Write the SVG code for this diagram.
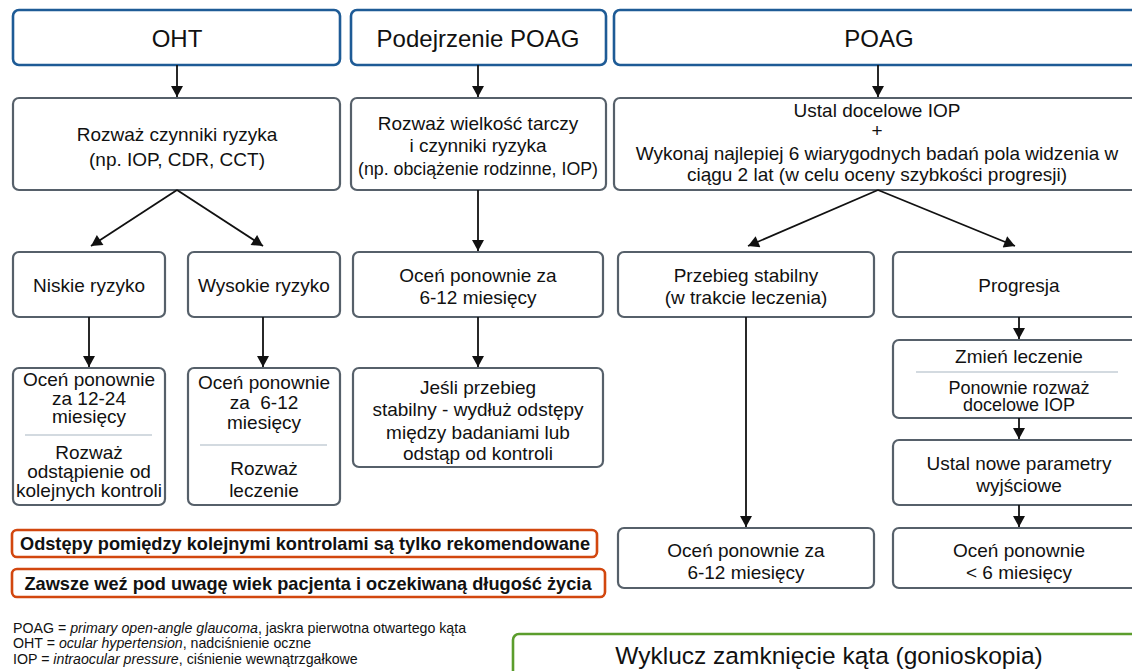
<svg xmlns="http://www.w3.org/2000/svg" width="1132" height="671" viewBox="0 0 1132 671">
<style>
.hdr{fill:#fff;stroke:#1e5b96;stroke-width:2.6}
.box{fill:#fff;stroke:#56606a;stroke-width:2.2}
.org{fill:#fff;stroke:#d2470f;stroke-width:2.6}
.grn{fill:#fff;stroke:#5b9d2c;stroke-width:2.6}
.sep{stroke:#a8b6c2;stroke-width:1.2}
text{font-family:"Liberation Sans",Arial,sans-serif;fill:#111;text-anchor:middle}
.h{font-size:24px}
.t{font-size:19px}
.s{font-size:18px}
.b{font-size:18.2px;font-weight:bold}
.fn{font-size:14.2px;text-anchor:start}
.g{font-size:24.5px}
.c line{stroke:#111;stroke-width:1.8;marker-end:url(#ah)}
</style>
<defs>
<marker id="ah" markerUnits="userSpaceOnUse" markerWidth="12" markerHeight="12" refX="10" refY="5.5" orient="auto" viewBox="0 0 10 11">
<path d="M0,0 L10,5.5 L0,11 z" fill="#111"/>
</marker>
</defs>
<rect width="1132" height="671" fill="#fff"/>

<g id="oht"><rect class="hdr" x="13" y="10" width="327" height="55" rx="6"/><text class="h" x="177" y="47">OHT</text></g>
<g id="podejrzenie"><rect class="hdr" x="351" y="10" width="255" height="55" rx="6"/><text class="h" x="478" y="47">Podejrzenie POAG</text></g>
<g id="poag"><rect class="hdr" x="614" y="10" width="532" height="55" rx="6"/><text class="h" x="879" y="47">POAG</text></g>

<g id="oht-risk"><rect class="box" x="13" y="98" width="327" height="92" rx="6"/>
<text class="t" x="177" y="141">Rozważ czynniki ryzyka</text><text class="t" x="177" y="166">(np. IOP, CDR, CCT)</text></g>
<g id="pod-risk"><rect class="box" x="351" y="98" width="255" height="92" rx="6"/>
<text class="t" x="478" y="130">Rozważ wielkość tarczy</text><text class="t" x="478" y="152">i czynniki ryzyka</text><text class="t" x="478" y="175" textLength="240" lengthAdjust="spacingAndGlyphs">(np. obciążenie rodzinne, IOP)</text></g>
<g id="poag-target"><rect class="box" x="614" y="98" width="532" height="92" rx="6"/>
<text class="t" x="877" y="117">Ustal docelowe IOP</text><text class="t" x="877" y="137">+</text><text class="t" x="877" y="160">Wykonaj najlepiej 6 wiarygodnych badań pola widzenia w</text><text class="t" x="877" y="181">ciągu 2 lat (w celu oceny szybkości progresji)</text></g>

<g id="niskie"><rect class="box" x="13" y="252" width="152" height="65" rx="6"/><text class="t" x="89" y="292">Niskie ryzyko</text></g>
<g id="wysokie"><rect class="box" x="188" y="252" width="152" height="65" rx="6"/><text class="t" x="264" y="292">Wysokie ryzyko</text></g>
<g id="pod-ocen"><rect class="box" x="353" y="252" width="250" height="65" rx="6"/><text class="t" x="478" y="282">Oceń ponownie za</text><text class="t" x="478" y="304">6-12 miesięcy</text></g>
<g id="stabilny"><rect class="box" x="618" y="252" width="256" height="65" rx="6"/><text class="t" x="746" y="282">Przebieg stabilny</text><text class="t" x="746" y="304">(w trakcie leczenia)</text></g>
<g id="progresja"><rect class="box" x="893" y="252" width="252" height="65" rx="6"/><text class="t" x="1019" y="292">Progresja</text></g>

<g id="niskie-ocen"><rect class="box" x="13" y="368" width="152" height="137" rx="6"/>
<text class="t" x="89" y="386">Oceń ponownie</text><text class="t" x="89" y="404.5">za 12-24</text><text class="t" x="89" y="423">miesięcy</text>
<line class="sep" x1="25" y1="435" x2="152" y2="435"/>
<text class="t" x="89" y="459">Rozważ</text><text class="t" x="89" y="478">odstąpienie od</text><text class="t" x="89" y="497" textLength="146" lengthAdjust="spacingAndGlyphs">kolejnych kontroli</text></g>
<g id="wysokie-ocen"><rect class="box" x="188" y="368" width="152" height="137" rx="6"/>
<text class="t" x="264" y="389">Oceń ponownie</text><text class="t" x="264" y="409" xml:space="preserve">za  6-12</text><text class="t" x="264" y="429">miesięcy</text>
<line class="sep" x1="200" y1="445" x2="327" y2="445"/>
<text class="t" x="264" y="475">Rozważ</text><text class="t" x="264" y="497">leczenie</text></g>
<g id="jesli"><rect class="box" x="353" y="368" width="250" height="99" rx="6"/>
<text class="t" x="478" y="394">Jeśli przebieg</text><text class="t" x="478" y="416">stabilny - wydłuż odstępy</text><text class="t" x="478" y="439">między badaniami lub</text><text class="t" x="478" y="460">odstąp od kontroli</text></g>

<g id="zmien"><rect class="box" x="893" y="340" width="252" height="78" rx="6"/>
<text class="t" x="1019" y="363">Zmień leczenie</text>
<line class="sep" x1="916" y1="372" x2="1118" y2="372"/>
<text class="s" x="1019" y="394">Ponownie rozważ</text><text class="s" x="1019" y="411">docelowe IOP</text></g>
<g id="ustal-nowe"><rect class="box" x="893" y="440" width="252" height="65" rx="6"/>
<text class="t" x="1019" y="470">Ustal nowe parametry</text><text class="t" x="1019" y="492">wyjściowe</text></g>
<g id="stab-ocen"><rect class="box" x="618" y="528" width="256" height="60" rx="6"/>
<text class="t" x="746" y="557">Oceń ponownie za</text><text class="t" x="746" y="579">6-12 miesięcy</text></g>
<g id="prog-ocen"><rect class="box" x="893" y="528" width="252" height="60" rx="6"/>
<text class="t" x="1019" y="557">Oceń ponownie</text><text class="t" x="1019" y="579">&lt; 6 miesięcy</text></g>

<g id="note1"><rect class="org" x="12" y="530" width="585" height="27" rx="5"/><text class="b" x="305" y="550">Odstępy pomiędzy kolejnymi kontrolami są tylko rekomendowane</text></g>
<g id="note2"><rect class="org" x="12" y="569" width="593" height="28" rx="5"/><text class="b" x="308" y="590">Zawsze weź pod uwagę wiek pacjenta i oczekiwaną długość życia</text></g>

<g id="footnotes">
<text class="fn" x="13" y="633">POAG = <tspan font-style="italic">primary open-angle glaucoma</tspan>, jaskra pierwotna otwartego kąta</text>
<text class="fn" x="13" y="648">OHT = <tspan font-style="italic">ocular hypertension</tspan>, nadciśnienie oczne</text>
<text class="fn" x="13" y="664">IOP = <tspan font-style="italic">intraocular pressure</tspan>, ciśnienie wewnątrzgałkowe</text>
</g>
<g id="gonioskopia"><rect class="grn" x="513" y="634" width="640" height="60" rx="6"/><text class="g" x="829" y="664">Wyklucz zamknięcie kąta (gonioskopia)</text></g>

<g id="connectors" class="c">
<line x1="177" y1="65" x2="177" y2="97"/>
<line x1="478" y1="65" x2="478" y2="97"/>
<line x1="878" y1="65" x2="878" y2="97"/>
<line x1="177" y1="190" x2="91" y2="246"/>
<line x1="177" y1="190" x2="263" y2="246"/>
<line x1="478" y1="190" x2="478" y2="251"/>
<line x1="878" y1="190" x2="748" y2="246"/>
<line x1="878" y1="190" x2="1015" y2="246"/>
<line x1="89" y1="317" x2="89" y2="367"/>
<line x1="263" y1="317" x2="263" y2="367"/>
<line x1="478" y1="317" x2="478" y2="367"/>
<line x1="746" y1="317" x2="746" y2="527"/>
<line x1="1019" y1="317" x2="1019" y2="339"/>
<line x1="1019" y1="418" x2="1019" y2="439"/>
<line x1="1019" y1="505" x2="1019" y2="527"/>
</g>
</svg>
